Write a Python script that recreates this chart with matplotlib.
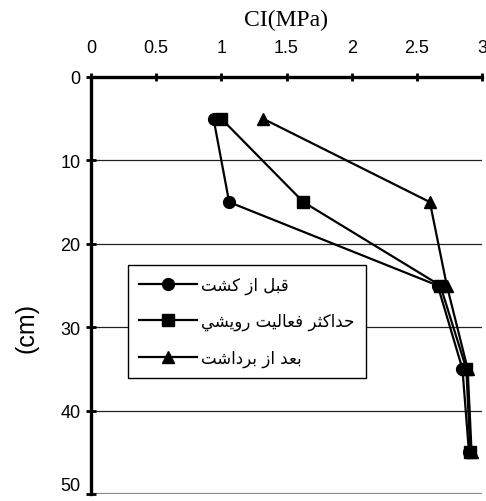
import matplotlib
matplotlib.use("Agg")
import matplotlib.pyplot as plt

depth = [5, 15, 25, 35, 45]
before_planting = [0.94, 1.06, 2.66, 2.85, 2.90]
max_growth = [1.00, 1.63, 2.68, 2.88, 2.91]
after_harvest = [1.32, 2.60, 2.73, 2.89, 2.92]
series_labels = ["قبل از كشت", "حداكثر فعاليت رويشي", "بعد از برداشت"]
x_ticks = [0, 0.5, 1, 1.5, 2, 2.5, 3]
x_tick_labels = ["0", "0.5", "1", "1.5", "2", "2.5", "3"]
y_ticks = [0, 10, 20, 30, 40, 50]

# --- minimal Arabic shaping (presentation forms, visual order) ---
FORMS = {
    "ا": (0xFE8D, 0xFE8E), "ب": (0xFE8F, 0xFE90, 0xFE91, 0xFE92),
    "ت": (0xFE95, 0xFE96, 0xFE97, 0xFE98), "ث": (0xFE99, 0xFE9A, 0xFE9B, 0xFE9C),
    "ح": (0xFEA1, 0xFEA2, 0xFEA3, 0xFEA4), "د": (0xFEA9, 0xFEAA),
    "ر": (0xFEAD, 0xFEAE), "ز": (0xFEAF, 0xFEB0),
    "ش": (0xFEB5, 0xFEB6, 0xFEB7, 0xFEB8), "ع": (0xFEC9, 0xFECA, 0xFECB, 0xFECC),
    "ف": (0xFED1, 0xFED2, 0xFED3, 0xFED4), "ق": (0xFED5, 0xFED6, 0xFED7, 0xFED8),
    "ك": (0xFED9, 0xFEDA, 0xFEDB, 0xFEDC), "ل": (0xFEDD, 0xFEDE, 0xFEDF, 0xFEE0),
    "و": (0xFEED, 0xFEEE), "ي": (0xFEF1, 0xFEF2, 0xFEF3, 0xFEF4),
}


def shape(s):
    out = []
    n = len(s)
    for i, ch in enumerate(s):
        if ch not in FORMS:
            out.append(ch)
            continue
        f = FORMS[ch]
        prev = s[i - 1] if i > 0 else None
        nxt = s[i + 1] if i + 1 < n else None
        cp = prev in FORMS and len(FORMS[prev]) == 4
        cn = len(f) == 4 and nxt in FORMS
        if cp and cn:
            c = f[3]
        elif cp:
            c = f[1]
        elif cn:
            c = f[2]
        else:
            c = f[0]
        out.append(chr(c))
    return "".join(reversed(out))


fig = plt.figure(figsize=(4.86, 5.02), dpi=100)
ax = fig.add_axes([91 / 486, 1 - 495 / 502, 391 / 486, 417 / 502])

ax.set_xlim(0, 3)
ax.set_ylim(50, 0)

for yv in y_ticks[1:-1]:
    ax.axhline(yv, color="#222222", lw=0.9, zorder=1)
ax.axhline(50, color="#888888", lw=1.6, zorder=1)

kw = dict(color="black", lw=1.6, zorder=3, clip_on=False)
h1, = ax.plot(before_planting, depth, marker="o", ms=8.5, **kw)
h2, = ax.plot(max_growth, depth, marker="s", ms=8, **kw)
h3, = ax.plot(after_harvest, depth, marker="^", ms=9, **kw)

ax.xaxis.tick_top()
ax.set_xticks(x_ticks)
ax.set_xticklabels(x_tick_labels)
ax.set_yticks(y_ticks)
for lab in ax.get_xticklabels() + ax.get_yticklabels():
    lab.set_family("Liberation Sans")
    lab.set_fontsize(13)
ax.tick_params(axis="x", direction="inout", length=6, width=2, pad=12)
ax.tick_params(axis="y", direction="inout", length=7, width=2, pad=4)
ax.get_yticklabels()[-1].set_va("bottom")

for side in ["right", "bottom"]:
    ax.spines[side].set_visible(False)
for side in ["top", "left"]:
    ax.spines[side].set_linewidth(2.4)

fig.text(286 / 486, 1 - 20 / 502, "CI(MPa)", family="Liberation Serif",
         fontsize=17, ha="center", va="center")
fig.text(26 / 486, 1 - 328 / 502, "(cm)", family="Liberation Sans",
         fontsize=18, ha="center", va="center", rotation=90)

leg = ax.legend([h1, h2, h3], [shape(t) for t in series_labels],
                loc="upper left", bbox_to_anchor=(0.0946, 0.55),
                borderaxespad=0, fancybox=False, frameon=True,
                handlelength=3.5, labelspacing=1.1, borderpad=0.65,
                handletextpad=0.25, prop={"family": "DejaVu Sans", "size": 12})
frame = leg.get_frame()
frame.set_edgecolor("black")
frame.set_linewidth(1.0)
frame.set_alpha(1)

fig.savefig("out.png", dpi=100)
